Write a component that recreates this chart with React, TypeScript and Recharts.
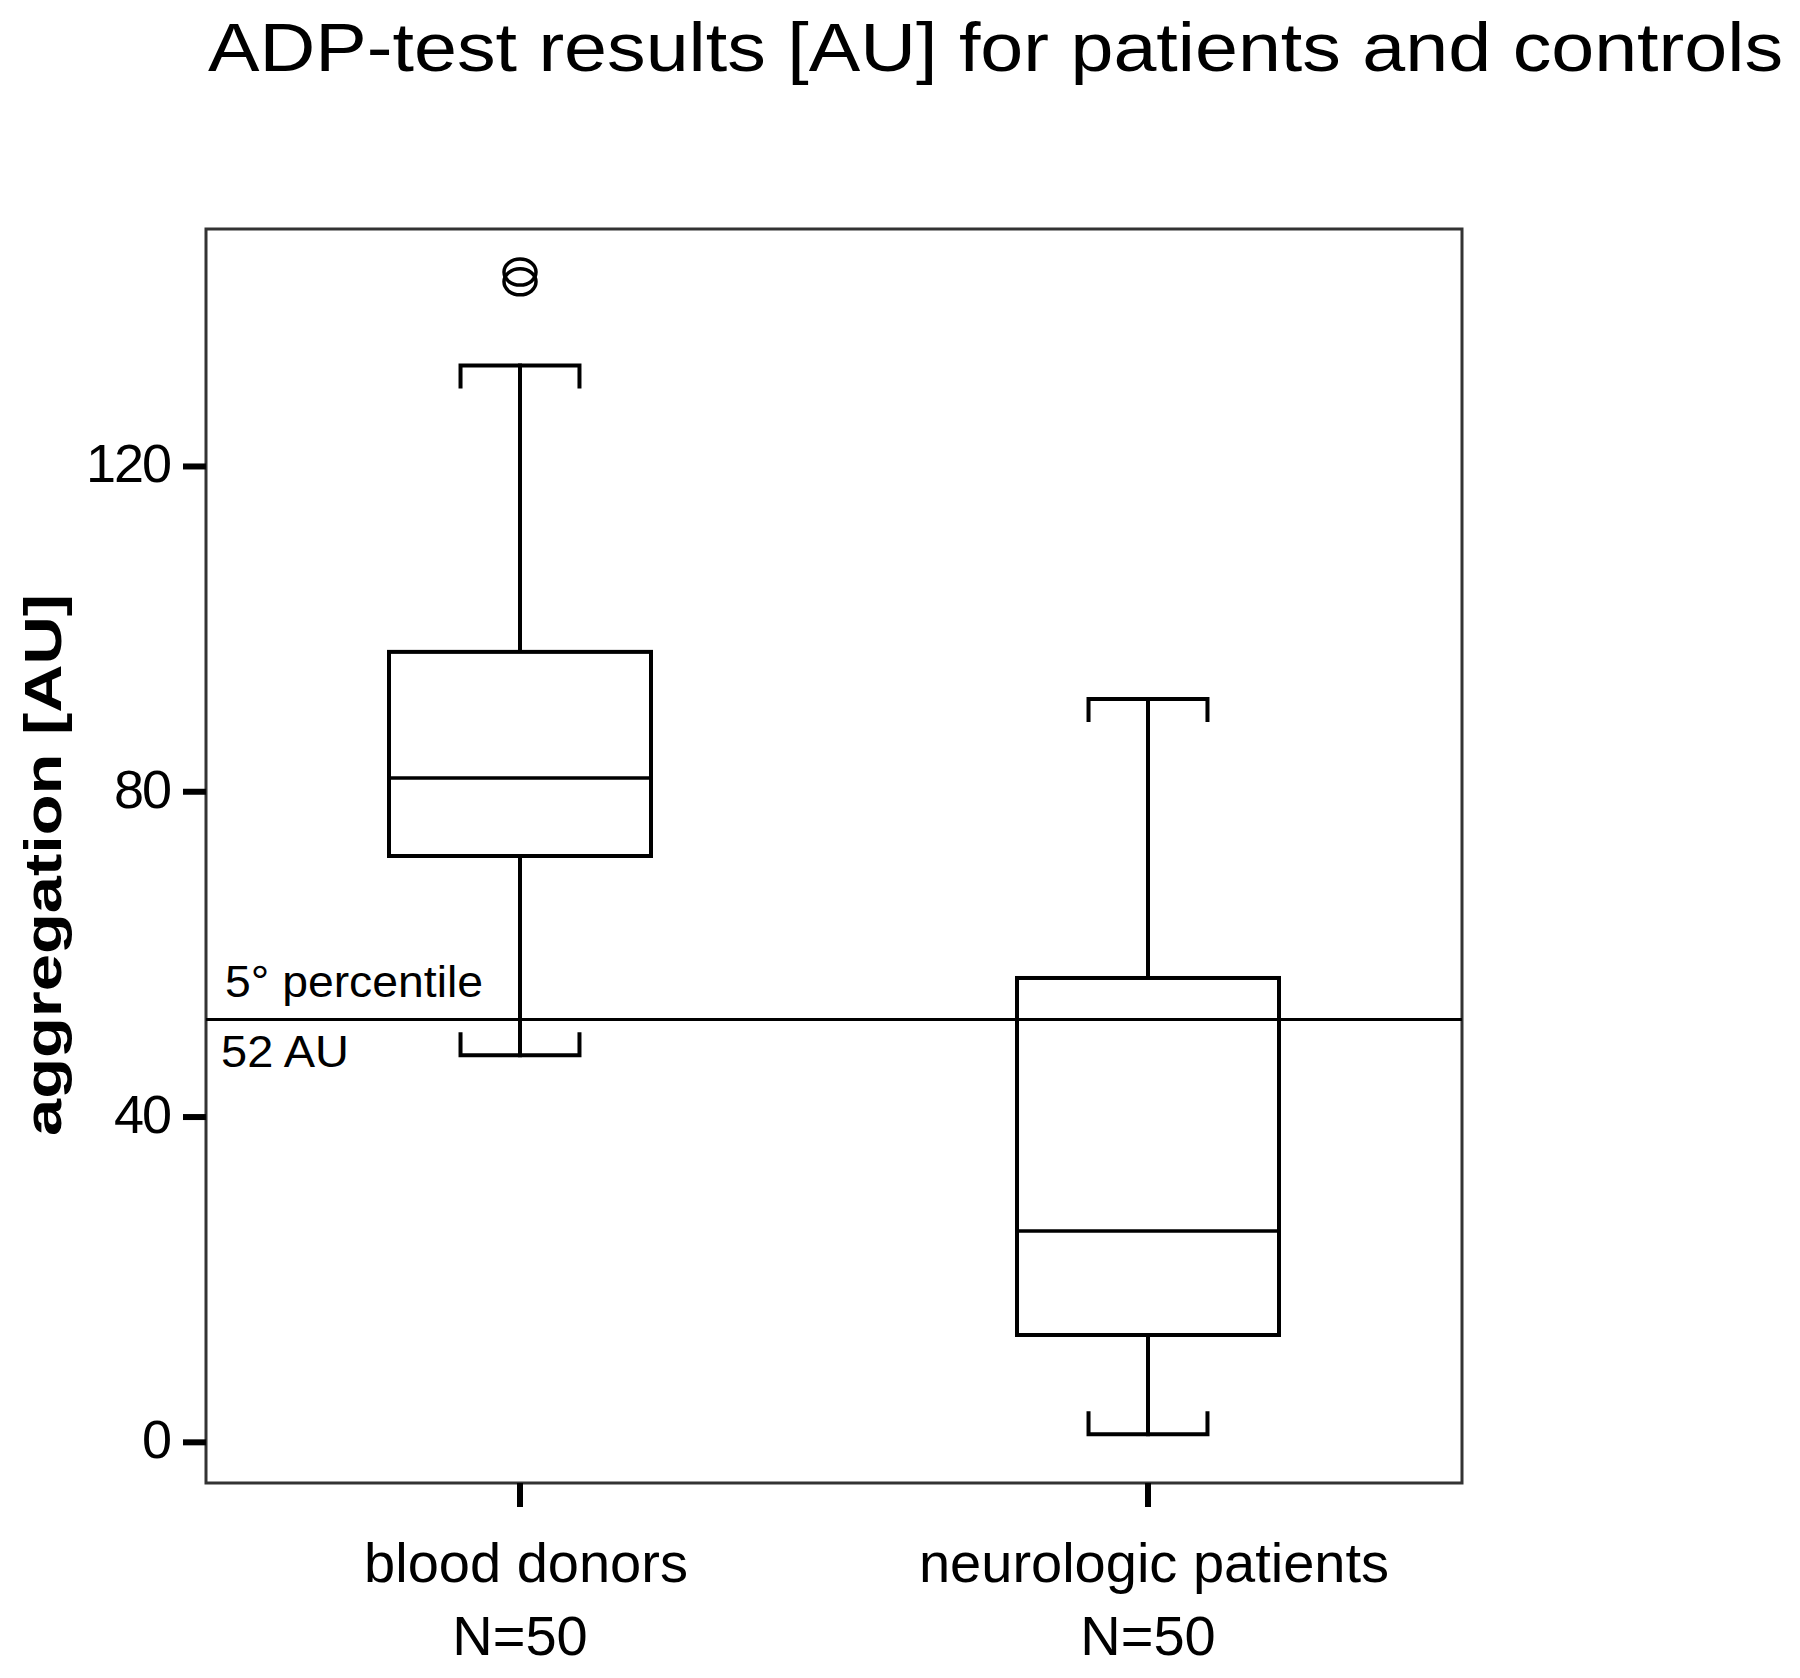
import React from "react";
import {
  Bar,
  ComposedChart,
  Customized,
  ReferenceArea,
  ReferenceDot,
  ReferenceLine,
  XAxis,
  YAxis,
} from "recharts";

// values (AU)
const groups = ["blood donors", "neurologic patients"];
const counts = [50, 50];
const whiskerLow = [47.6, 1.0];
const q1 = [72.1, 13.2];
const median = [81.7, 26.0];
const q3 = [97.2, 57.1];
const whiskerHigh = [132.4, 91.4];

const outlierGroups = ["blood donors", "blood donors"];
const outlierValues = [143.9, 142.7];

const yTicks = [0, 40, 80, 120];
const yDomain = [-5, 149.2];
const cutoff = 52;

const FONT = "'Liberation Sans', Arial, sans-serif";
const INK = "#000";

const rows = groups.map((name, i) => ({
  name,
  n: counts[i],
  lo: whiskerLow[i],
  q1: q1[i],
  med: median[i],
  q3: q3[i],
  hi: whiskerHigh[i],
  box: [q1[i], q3[i]],
}));

/** box + whiskers, positioned from the bar's own q1..q3 geometry */
function BoxShape(props: any) {
  const { x, y, width, height, payload } = props;
  if (!payload) return null;
  const top = Math.min(y, y + height);
  const h = Math.abs(height);
  const unit = h / (payload.q3 - payload.q1);
  const toY = (v: number) => top + (payload.q3 - v) * unit;
  const cx = x + width / 2;
  const capHalf = width * 0.227;
  const serif = 21;
  const yHi = toY(payload.hi);
  const yLo = toY(payload.lo);
  const yMed = toY(payload.med);
  const common = { stroke: INK, strokeWidth: 4, fill: "none", strokeLinecap: "square" as const };
  return (
    <g>
      <line x1={cx} x2={cx} y1={yHi} y2={top} {...common} />
      <line x1={cx} x2={cx} y1={top + h} y2={yLo} {...common} />
      <path
        d={`M${cx - capHalf},${yHi + serif} L${cx - capHalf},${yHi} L${cx + capHalf},${yHi} L${cx + capHalf},${yHi + serif}`}
        {...common}
      />
      <path
        d={`M${cx - capHalf},${yLo - serif} L${cx - capHalf},${yLo} L${cx + capHalf},${yLo} L${cx + capHalf},${yLo - serif}`}
        {...common}
      />
      <rect x={x} y={top} width={width} height={h} fill="#fff" stroke={INK} strokeWidth={4} />
      <line x1={x} x2={x + width} y1={yMed} y2={yMed} stroke={INK} strokeWidth={3.5} />
    </g>
  );
}

function XTick(props: any) {
  const { x, y, payload } = props;
  const row = rows.find((r) => r.name === payload.value);
  return (
    <g fontFamily={FONT} fontSize={56} fill={INK}>
      <text x={x + 6} y={y + 73} textAnchor="middle">
        {payload.value}
      </text>
      <text x={x} y={y + 146} textAnchor="middle">
        N={row ? row.n : ""}
      </text>
    </g>
  );
}

function YTick(props: any) {
  const { x, y, payload } = props;
  return (
    <text x={x} y={y + 16} textAnchor="end" fontFamily={FONT} fontSize={54} letterSpacing={-2} fill={INK}>
      {payload.value}
    </text>
  );
}

function cutoffLabel(props: any) {
  const vb = props.viewBox || {};
  return (
    <g fontFamily={FONT} fontSize={44} fill={INK}>
      <text x={vb.x + 19} y={vb.y - 22} textLength={258} lengthAdjust="spacingAndGlyphs">
        5° percentile
      </text>
      <text x={vb.x + 15} y={vb.y + 48} textLength={128} lengthAdjust="spacingAndGlyphs">
        {cutoff} AU
      </text>
    </g>
  );
}

function Titles() {
  return (
    <g fontFamily={FONT} fill={INK}>
      <text x={208} y={71} fontSize={68} textLength={1575} lengthAdjust="spacingAndGlyphs">
        ADP-test results [AU] for patients and controls
      </text>
      <text
        x={61}
        y={865}
        fontSize={52}
        fontWeight="bold"
        textAnchor="middle"
        textLength={542}
        lengthAdjust="spacingAndGlyphs"
        transform="rotate(-90 61 865)"
      >
        aggregation [AU]
      </text>
    </g>
  );
}

export default function App() {
  return (
    <div style={{ position: "absolute", left: 0, top: 0, width: 1800, height: 1678, background: "#fff" }}>
      <ComposedChart
        width={1800}
        height={1678}
        data={rows}
        margin={{ top: 229, right: 338, bottom: 45, left: 86 }}
        barCategoryGap={0}
      >
        <ReferenceArea y1={yDomain[0]} y2={yDomain[1]} fill="none" stroke="#333" strokeWidth={3} />
        <XAxis
          dataKey="name"
          height={150}
          axisLine={false}
          tickSize={24}
          tickLine={{ stroke: INK, strokeWidth: 6 }}
          tick={<XTick />}
          interval={0}
        />
        <YAxis
          type="number"
          domain={yDomain}
          allowDataOverflow
          ticks={yTicks}
          width={120}
          axisLine={false}
          tickSize={23}
          tickMargin={13}
          tickLine={{ stroke: INK, strokeWidth: 6 }}
          tick={<YTick />}
        />
        <Bar dataKey="box" barSize={262} shape={<BoxShape />} isAnimationActive={false} />
        <ReferenceLine y={cutoff} stroke={INK} strokeWidth={3} label={cutoffLabel} />
        {outlierValues.map((v, i) => (
          <ReferenceDot
            key={i}
            x={outlierGroups[i]}
            y={v}
            r={12}
            shape={(p: any) => (
              <ellipse cx={p.cx} cy={p.cy} rx={16} ry={13} fill="none" stroke={INK} strokeWidth={3.5} />
            )}
          />
        ))}
        <Customized component={Titles} />
      </ComposedChart>
    </div>
  );
}
